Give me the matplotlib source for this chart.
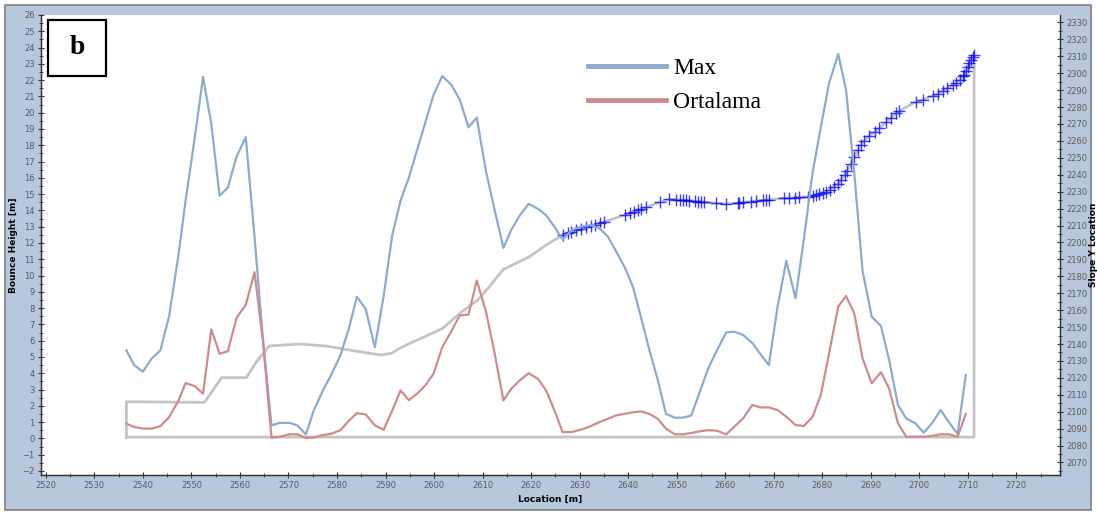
import matplotlib
matplotlib.use("Agg")
import matplotlib.pyplot as plt
from matplotlib.ticker import MultipleLocator
from matplotlib.patches import Rectangle

## bounce height data (left axis)
location = [2536.6, 2538.2, 2540.0, 2541.8, 2543.6, 2545.4, 2547.3, 2548.8, 2550.7, 2552.4,
            2554.1, 2555.8, 2557.5, 2559.3, 2561.2, 2563.0, 2564.8, 2566.5, 2568.2, 2570.3,
            2571.8, 2573.6, 2575.2, 2577.1, 2578.8, 2580.7, 2582.5, 2584.1, 2585.9, 2587.8,
            2589.6, 2591.4, 2593.1, 2594.8, 2596.5, 2598.2, 2599.9, 2601.7, 2603.6, 2605.3,
            2607.1, 2608.8, 2610.7, 2612.5, 2614.3, 2615.9, 2617.7, 2619.5, 2621.4, 2623.1,
            2624.8, 2626.5, 2628.4, 2630.2, 2632.2, 2634.1, 2635.8, 2637.5, 2639.3, 2641.0,
            2642.6, 2644.4, 2646.1, 2647.8, 2649.6, 2651.3, 2653.0, 2654.7, 2656.5, 2658.3,
            2660.2, 2661.9, 2663.7, 2665.6, 2667.2, 2669.0, 2670.8, 2672.6, 2674.5, 2676.2,
            2678.0, 2679.7, 2681.4, 2683.3, 2684.9, 2686.6, 2688.3, 2690.2, 2692.1, 2693.8,
            2695.6, 2697.3, 2699.2, 2700.9, 2702.6, 2704.4, 2706.1, 2707.9, 2709.6]
max_h = [5.4, 4.5, 4.1, 4.9, 5.4, 7.5, 11.2, 14.6, 18.5, 22.2,
         19.3, 14.9, 15.4, 17.3, 18.5, 12.4, 5.9, 0.8, 0.95, 0.95,
         0.8, 0.25, 1.7, 2.95, 3.9, 5.1, 6.8, 8.7, 7.95, 5.6,
         8.7, 12.5, 14.6, 16.0, 17.7, 19.4, 21.1, 22.25, 21.7, 20.8,
         19.1, 19.7, 16.4, 14.0, 11.7, 12.8, 13.7, 14.4, 14.1, 13.7,
         13.0, 12.2, 12.8, 13.0, 13.1, 12.9, 12.4, 11.5, 10.5, 9.3,
         7.5, 5.4, 3.6, 1.5, 1.27, 1.27, 1.4, 2.8, 4.3, 5.4,
         6.5, 6.55, 6.35, 5.85, 5.2, 4.5, 8.1, 10.9, 8.6, 12.2,
         16.3, 19.1, 21.8, 23.6, 21.4, 16.3, 10.3, 7.47, 6.9, 4.8,
         2.05, 1.23, 0.92, 0.35, 0.92, 1.74, 1.0, 0.27, 3.9]
ortalama = [0.9, 0.7, 0.6, 0.6, 0.75, 1.3, 2.3, 3.4, 3.2, 2.75,
            6.7, 5.2, 5.35, 7.4, 8.2, 10.2, 5.8, 0.05, 0.1, 0.25,
            0.25, 0.03, 0.05, 0.2, 0.28, 0.5, 1.1, 1.55, 1.47, 0.8,
            0.53, 1.72, 2.95, 2.35, 2.74, 3.25, 3.97, 5.6, 6.6, 7.55,
            7.6, 9.7, 7.8, 5.2, 2.33, 3.05, 3.57, 4.0, 3.66, 2.94,
            1.72, 0.39, 0.39, 0.53, 0.74, 1.0, 1.2, 1.41, 1.51, 1.6,
            1.66, 1.5, 1.2, 0.6, 0.25, 0.25, 0.33, 0.43, 0.5, 0.47,
            0.25, 0.72, 1.23, 2.05, 1.9, 1.9, 1.74, 1.33, 0.82, 0.76,
            1.33, 2.66, 5.2, 8.1, 8.74, 7.68, 4.92, 3.38, 4.06, 3.05,
            0.93, 0.1, 0.1, 0.1, 0.15, 0.25, 0.25, 0.1, 1.5]

## slope profile outline (right axis)
slope_x = [2536.6, 2536.6, 2552.7, 2556.2, 2561.3, 2563.4, 2566.0, 2568.9, 2572.3, 2577.8,
           2582.6, 2586.7, 2589.1, 2591.2, 2592.9, 2595.0, 2598.1, 2601.8, 2605.3, 2609.0,
           2611.4, 2614.3, 2616.9, 2619.7, 2623.1, 2626.5, 2630.0, 2634.1, 2638.2, 2642.3,
           2645.8, 2648.5, 2654.7, 2660.1, 2665.0, 2671.8, 2677.4, 2680.8, 2683.2, 2684.9,
           2686.3, 2687.7, 2689.4, 2691.8, 2695.2, 2698.6, 2703.4, 2707.6, 2709.3, 2710.3,
           2711.3, 2711.3, 2536.6]
slope_y = [2085.0, 2105.9, 2105.5, 2120.1, 2120.1, 2129.5, 2138.8, 2139.4, 2140.0, 2138.8,
           2136.4, 2134.5, 2133.5, 2134.5, 2137.4, 2140.4, 2144.3, 2149.3, 2158.1, 2166.0,
           2173.9, 2184.1, 2187.7, 2191.6, 2198.5, 2204.4, 2207.8, 2211.3, 2215.2, 2219.2,
           2223.1, 2225.5, 2224.1, 2222.7, 2224.1, 2226.1, 2227.0, 2230.0, 2234.5, 2240.9,
           2248.7, 2256.6, 2262.5, 2267.5, 2276.3, 2282.2, 2287.2, 2294.1, 2299.0, 2305.9,
           2310.8, 2085.0, 2085.0]

## trajectory end points (blue crosses, right axis)
end_x = [2626.5, 2627.6, 2628.3, 2629.3, 2630.3, 2631.4, 2632.4, 2633.1, 2634.1, 2635.1,
         2639.3, 2640.3, 2641.3, 2642.0, 2642.7, 2643.7, 2646.5, 2648.5, 2649.9, 2650.6,
         2651.3, 2652.0, 2652.6, 2653.7, 2654.4, 2655.1, 2655.7, 2658.1, 2660.2, 2662.6,
         2662.9, 2663.6, 2665.4, 2666.4, 2667.7, 2668.4, 2669.1, 2672.2, 2673.2, 2674.3,
         2675.3, 2677.0, 2678.0, 2678.7, 2679.4, 2680.1, 2680.8, 2681.5, 2682.5, 2683.2,
         2683.9, 2684.6, 2685.2, 2685.9, 2686.6, 2687.3, 2688.0, 2688.7, 2689.7, 2690.8,
         2691.8, 2693.2, 2694.2, 2695.2, 2695.9, 2699.3, 2700.7, 2702.8, 2703.8, 2704.8,
         2705.8, 2706.9, 2707.6, 2708.3, 2709.0, 2709.3, 2709.7, 2710.0, 2710.3, 2710.7,
         2711.0, 2711.3]
end_y = [2204.5, 2205.5, 2206.3, 2207.2, 2208.0, 2209.0, 2209.8, 2210.5, 2211.3, 2212.2,
         2216.3, 2217.2, 2218.2, 2219.0, 2219.7, 2220.9, 2223.7, 2225.5, 2225.3, 2225.1,
         2225.0, 2224.8, 2224.6, 2224.4, 2224.2, 2224.0, 2223.8, 2223.2, 2222.8, 2223.4,
         2223.5, 2223.7, 2224.2, 2224.5, 2224.9, 2225.1, 2225.3, 2226.2, 2226.4, 2226.5,
         2226.7, 2227.0, 2227.5, 2228.1, 2228.7, 2229.4, 2230.0, 2231.2, 2233.0, 2234.5,
         2237.0, 2239.7, 2242.4, 2246.5, 2250.3, 2254.4, 2257.6, 2260.1, 2263.1, 2265.4,
         2267.5, 2271.1, 2273.7, 2276.3, 2277.5, 2282.9, 2284.4, 2286.6, 2287.9, 2289.5,
         2291.2, 2292.9, 2294.1, 2296.0, 2298.2, 2299.0, 2301.5, 2303.8, 2305.9, 2307.8,
         2309.3, 2310.8]

bg = "#b7c8dc"
tick_col = "#5a5a5a"

fig = plt.figure(figsize=(10.97, 5.15), dpi=100)
fig.patch.set_facecolor("white")
fig.patches.append(Rectangle((5 / 1097, 5 / 515), 1086 / 1097, 505 / 515, transform=fig.transFigure,
                             facecolor=bg, edgecolor="#808080", linewidth=1.2, zorder=-10))

ax = fig.add_axes([41 / 1097, 1 - 475 / 515, 1019 / 1097, 460 / 515])
ax2 = ax.twinx()

# slope + end points on right axis
ax2.plot(slope_x, slope_y, color="#c4c4c4", linewidth=2.0, zorder=1)
ax2.plot(end_x, end_y, linestyle="none", marker="+", markersize=8, markeredgewidth=1.0,
         color="#0000ff", alpha=0.75, zorder=2)

# bounce heights on left axis (left axis drawn on top, white patch from ax2)
ax.set_zorder(ax2.get_zorder() + 1)
ax.patch.set_visible(False)
ax2.patch.set_visible(True)
ax2.patch.set_facecolor("white")
ax.plot(location, max_h, color="#8eabcf", linewidth=1.6, label="Max")
ax.plot(location, ortalama, color="#d08c8c", linewidth=1.6, label="Ortalama")

ax.set_xlim(2519, 2729)
ax.set_ylim(-2.25, 26)
ax2.set_ylim(2062.6, 2334.4)

ax.xaxis.set_major_locator(MultipleLocator(10))
ax.xaxis.set_minor_locator(MultipleLocator(5))
ax.yaxis.set_major_locator(MultipleLocator(1))
ax.yaxis.set_minor_locator(MultipleLocator(0.5))
ax2.yaxis.set_major_locator(MultipleLocator(10))
ax2.yaxis.set_minor_locator(MultipleLocator(5))

for a in (ax, ax2):
    a.tick_params(which="major", direction="inout", length=5, width=0.8, color="#333333",
                  labelsize=6, labelcolor=tick_col, pad=2)
    a.tick_params(which="minor", direction="inout", length=3, width=0.6, color="#333333")
    a.spines["top"].set_visible(False)
    for s in ("left", "right", "bottom"):
        a.spines[s].set_color("#333333")
        a.spines[s].set_linewidth(0.9)

ax.set_xlabel("Location [m]", fontsize=6.5, fontweight="bold", labelpad=3)
ax.set_ylabel("Bounce Height [m]", fontsize=6.5, fontweight="bold", labelpad=3)
ax2.set_ylabel("Slope Y Location", fontsize=6.5, fontweight="bold", labelpad=1)

leg = ax.legend(loc="upper left", bbox_to_anchor=(567 / 1097, 1 - 36 / 515),
                bbox_transform=fig.transFigure, frameon=False,
                prop={"family": "Liberation Serif", "size": 17},
                handlelength=3.3, handletextpad=0.3, labelspacing=0.55)
for line in leg.get_lines():
    line.set_linewidth(3.5)

# panel label
fig.patches.append(Rectangle((48 / 1097, 1 - 76 / 515), 58 / 1097, 56 / 515, transform=fig.transFigure,
                             facecolor="white", edgecolor="black", linewidth=1.6, zorder=10))
fig.text(77 / 1097, 1 - 48 / 515, "b", family="Liberation Serif", fontweight="bold",
         fontsize=20, ha="center", va="center", zorder=11)

fig.savefig("out.png", dpi=100, facecolor=fig.get_facecolor())
